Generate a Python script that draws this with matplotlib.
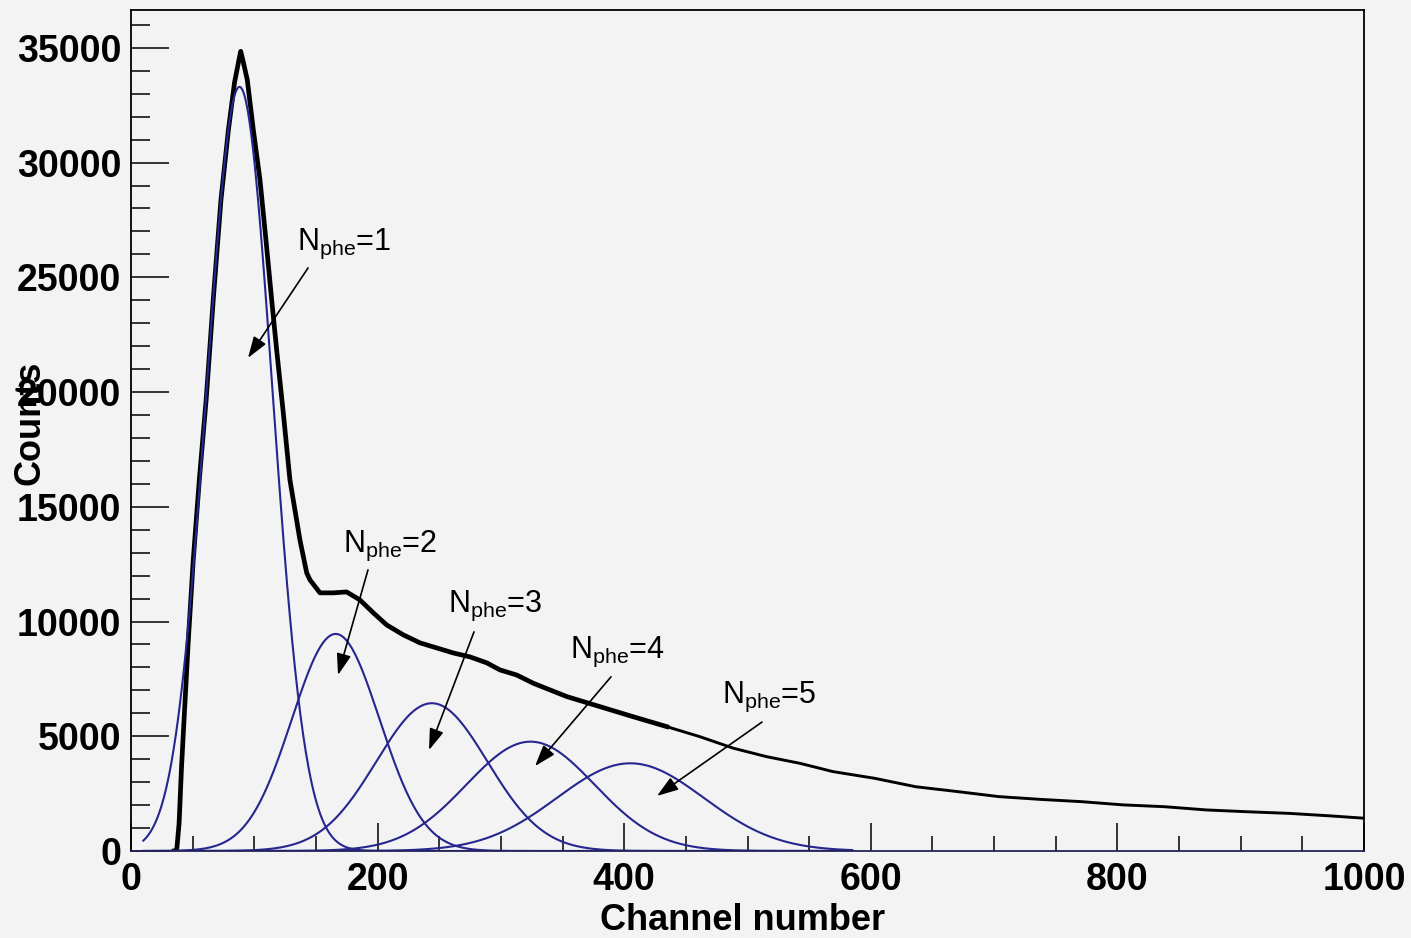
import numpy as np
import matplotlib.pyplot as plt
from matplotlib.ticker import MultipleLocator

plt.rcParams['font.family'] = ['Liberation Sans', 'DejaVu Sans']
plt.rcParams['mathtext.fontset'] = 'custom'
plt.rcParams['mathtext.rm'] = 'Liberation Sans'
plt.rcParams['mathtext.it'] = 'Liberation Sans:italic'
plt.rcParams['mathtext.bf'] = 'Liberation Sans:bold'

channel = [35, 37, 39, 41, 46.5, 50.5, 55.4, 61, 66.8, 73, 79, 84, 88, 89, 91,
           94.3, 99.2, 104.6, 109.5, 114.1, 118.2, 123.5, 128.9, 137,
           142.5, 145.2, 153.3, 164.1, 174.9, 185.7, 196.5, 207.4, 220.8, 234.4,
           247.9, 261.4, 274.9, 288.5, 299.3, 312.8, 326.3, 353.4, 380.4, 407.4,
           434.5, 461.5, 488.5, 515.6, 542.6, 569.3, 602.9, 636.5, 670.2, 703.8,
           737.4, 771, 804.6, 838.3, 871.9, 905.5, 939.2, 972.8, 999.7]
counts = [0, 0, 1200, 3680, 9200, 12690, 16170, 19700, 24100, 28400, 31430,
          33500, 34600, 34850, 34400, 33610, 31430, 29250, 26600, 24020, 21800,
          19100, 16170, 13560, 12120, 11810, 11250, 11250, 11290, 10940,
          10380, 9850, 9420, 9070, 8850, 8630, 8460, 8200, 7890, 7670, 7310,
          6730, 6290, 5850, 5420, 4980, 4480, 4110, 3820, 3460, 3170, 2800,
          2590, 2370, 2250, 2150, 2010, 1930, 1790, 1710, 1640, 1530, 1430]

# fitted single/multi photoelectron gaussians
n_phe = [1, 2, 3, 4, 5]
peak_mean = [88, 166, 244, 324, 405]
peak_sigma = [26.6, 35.6, 45, 52, 59.5]
peak_amp = [33300, 9460, 6440, 4765, 3822]

bg = '#f3f3f3'
fig = plt.figure(figsize=(14.11, 9.38), dpi=100, facecolor=bg)
ax = fig.add_axes([131/1411, 87/938, 1233/1411, 841/938], facecolor=bg)

# histogram, thicker where the noise band is wide
split = 44
ax.plot(channel[:split + 1], counts[:split + 1], color='black', lw=3.4, solid_joinstyle='round')
ax.plot(channel[split:], counts[split:], color='black', lw=2.1, solid_joinstyle='round')

xf = np.linspace(10, 585, 800)
for m, s, a in zip(peak_mean, peak_sigma, peak_amp):
    ax.plot(xf, a * np.exp(-0.5 * ((xf - m) / s) ** 2), color='#26268f', lw=1.5)

# labels + arrows
text_pos = [(134.6, 26200), (171.9, 13030), (257, 10420), (356, 8410), (479.3, 6450)]
tails = [(143.6, 25410), (192.2, 12250), (278.2, 9550), (389.3, 7590), (511.8, 5620)]
heads = [(94.9, 21490), (167.9, 7670), (241.7, 4400), (327.7, 3700), (426.6, 2400)]
for n, tp, t, h in zip(n_phe, text_pos, tails, heads):
    ax.text(tp[0], tp[1], r'N$_{\mathrm{phe}}$=%d' % n, fontsize=22,
            ha='left', va='baseline')
    ax.annotate('', xy=h, xytext=t,
                arrowprops=dict(arrowstyle='-|>,head_length=0.65,head_width=0.22',
                                color='black', lw=1.2, mutation_scale=20,
                                shrinkA=0, shrinkB=0))

ax.set_xlim(0, 1000)
ax.set_ylim(0, 36650)
ax.xaxis.set_major_locator(MultipleLocator(200))
ax.xaxis.set_minor_locator(MultipleLocator(50))
ax.yaxis.set_major_locator(MultipleLocator(5000))
ax.yaxis.set_minor_locator(MultipleLocator(1000))
ax.tick_params(axis='y', which='major', direction='in', length=27, width=1.1, pad=7)
ax.tick_params(axis='y', which='minor', direction='in', length=14, width=1.1)
ax.tick_params(axis='x', which='major', direction='in', length=20, width=1.1, pad=8)
ax.tick_params(axis='x', which='minor', direction='in', length=11, width=1.1)
for lab in ax.get_xticklabels() + ax.get_yticklabels():
    lab.set_fontsize(27)
    lab.set_fontweight('bold')
for sp in ax.spines.values():
    sp.set_linewidth(1.3)
ax.spines['bottom'].set_color('#22225a')

fig.text(743/1411, 1 - 930/938, 'Channel number', fontsize=26, fontweight='bold',
         ha='center', va='baseline')
fig.text(30/1411, 1 - 423/938, 'Counts', fontsize=26, fontweight='bold',
         ha='center', va='center', rotation=90)

fig.savefig('out.png', dpi=100, facecolor=bg)
